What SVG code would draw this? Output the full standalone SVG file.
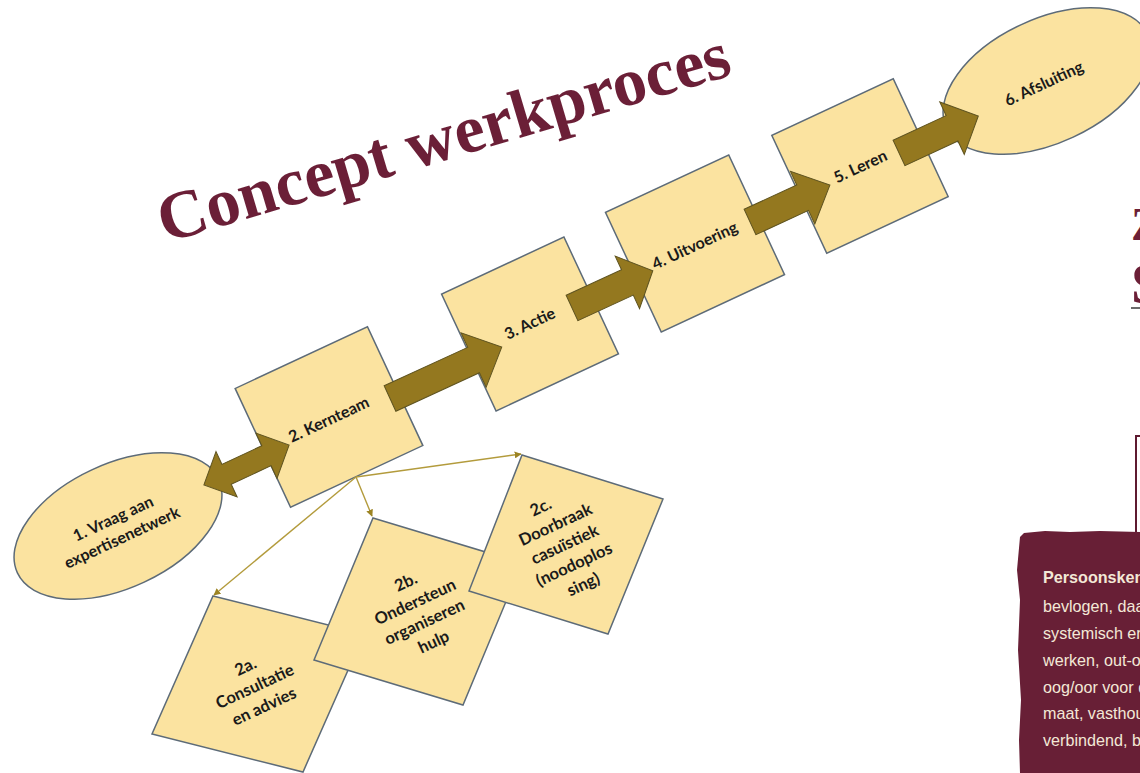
<svg xmlns="http://www.w3.org/2000/svg" width="1140" height="773" viewBox="0 0 1140 773">
<defs>
<style>
.box{fill:#fbe3a0;stroke:#5d6b78;stroke-width:1.5}
.lbl{font-family:Lato,"Open Sans","Liberation Sans",sans-serif;font-weight:bold;font-size:16px;fill:#1a1a1a;text-anchor:middle}
.sub{font-family:Lato,"Open Sans","Liberation Sans",sans-serif;font-weight:bold;font-size:16.5px;fill:#1a1a1a;text-anchor:middle}
.blk{fill:#94781f;stroke:#5e5320;stroke-width:1}
.conn{fill:none;stroke:#b39b3c;stroke-width:1.4}
.side{font-family:"Liberation Sans",sans-serif;font-size:17px;fill:#f3e8d6}
</style>
<marker id="ah" viewBox="0 0 10 10" refX="9" refY="5" markerWidth="7" markerHeight="7" orient="auto" markerUnits="userSpaceOnUse">
<path d="M0,0 L10,5 L0,10 z" fill="#9c8424"/>
</marker>
</defs>
<rect width="1140" height="773" fill="#ffffff"/>

<text x="0" y="0" transform="translate(165,243) rotate(-16.5)" font-family="'Liberation Serif',serif" font-weight="bold" font-size="68" fill="#6b1f37">Concept werkproces</text>

<g id="n1">
<ellipse cx="118" cy="526" rx="111" ry="62" transform="rotate(-25 118 526)" class="box"/>
<g transform="translate(118,529) rotate(-25)">
<text class="lbl" x="0" y="-6">1. Vraag aan</text>
<text class="lbl" x="0" y="15">expertisenetwerk</text>
</g>
</g>

<g id="n6">
<ellipse cx="1047" cy="81" rx="111" ry="62" transform="rotate(-25 1047 81)" class="box"/>
<text class="lbl" x="0" y="5" transform="translate(1044,84) rotate(-25)">6. Afsluiting</text>
</g>

<g id="n2">
<rect class="box" x="-73" y="-65.5" width="146" height="131" transform="translate(329,417) rotate(-25)"/>
<text class="lbl" x="0" y="5" transform="translate(329,420) rotate(-25)">2. Kernteam</text>
</g>
<g id="n3">
<rect class="box" x="-67.5" y="-64.5" width="135" height="129" transform="translate(530,324) rotate(-25)"/>
<text class="lbl" x="0" y="5" transform="translate(530,324) rotate(-25)">3. Actie</text>
</g>
<g id="n4">
<rect class="box" x="-68" y="-66" width="136" height="132" transform="translate(695,243.5) rotate(-25)"/>
<text class="lbl" x="0" y="5" transform="translate(695,246) rotate(-25)">4. Uitvoering</text>
</g>
<g id="n5">
<rect class="box" x="-67" y="-65" width="134" height="130" transform="translate(860,166) rotate(-25)"/>
<text class="lbl" x="0" y="5" transform="translate(860.5,167) rotate(-25)">5. Leren</text>
</g>

<g id="n2a">
<polygon class="box" points="213,596 364,634 303,772 152,734"/>
<g transform="translate(255,687) rotate(-25)">
<text class="sub" x="0" y="-17">2a.</text>
<text class="sub" x="0" y="5">Consultatie</text>
<text class="sub" x="0" y="27">en advies</text>
</g>
</g>
<g id="n2b">
<polygon class="box" points="373,518 522,563 463,705 314,660"/>
<g transform="translate(420,612.5) rotate(-25)">
<text class="sub" x="0" y="-28">2b.</text>
<text class="sub" x="0" y="-6">Ondersteun</text>
<text class="sub" x="0" y="16">organiseren</text>
<text class="sub" x="0" y="38">hulp</text>
</g>
</g>
<g id="n2c">
<polygon class="box" points="522,455 663,499 608,634 469,591"/>
<g transform="translate(565,545) rotate(-25)">
<text class="sub" x="-6" y="-39">2c.</text>
<text class="sub" x="0" y="-17">Doorbraak</text>
<text class="sub" x="0" y="5">casuïstiek</text>
<text class="sub" x="0" y="27">(noodoplos</text>
<text class="sub" x="0" y="49">sing)</text>
</g>
</g>

<g id="connectors">
<polygon class="blk" transform="translate(246.5,465) rotate(-25)" points="-47,0 -22,-25 -22,-11 22,-11 22,-25 47,0 22,25 22,11 -22,11 -22,25"/>
<polygon class="blk" transform="translate(390,398.5) rotate(-24.7)" points="0,-14 92,-14 92,-30 123,0 92,30 92,14 0,14"/>
<polygon class="blk" transform="translate(572,308) rotate(-24.8)" points="0,-14 61,-14 61,-29 89,0 61,29 61,14 0,14"/>
<polygon class="blk" transform="translate(750,222) rotate(-24.8)" points="0,-14 58,-14 58,-29 88,0 58,29 58,14 0,14"/>
<polygon class="blk" transform="translate(899,153) rotate(-25)" points="0,-14 58.5,-14 58.5,-29 87.5,0 58.5,29 58.5,14 0,14"/>
<line class="conn" x1="356" y1="477" x2="214" y2="595" marker-end="url(#ah)"/>
<line class="conn" x1="356" y1="477" x2="372" y2="516" marker-end="url(#ah)"/>
<line class="conn" x1="356" y1="477" x2="521" y2="454" marker-end="url(#ah)"/>
</g>

<g id="side">
<text x="1131" y="240" font-family="'Liberation Serif',serif" font-weight="bold" font-size="46" fill="#6b1f37">Z</text>
<text x="1131" y="303" font-family="'Liberation Serif',serif" font-weight="bold" font-size="58" fill="#6b1f37">S</text>
<line x1="1131" y1="308" x2="1140" y2="308" stroke="#3a3a3a" stroke-width="1.5"/>
<path d="M1136,533 L1136,436 L1140,436" fill="none" stroke="#5e1a30" stroke-width="2"/>
<path d="M1020,537 L1024,533 L1045,531 L1070,532 L1100,531 L1140,532 L1140,773 L1020,773 L1019,740 L1021,700 L1018,650 L1020,600 L1017,570 z" fill="#681f36"/>
<g transform="translate(1043,0) scale(0.95,1)">
<text class="side" x="0" y="583" font-weight="bold" font-size="19" fill="#faf3e8">Persoonskenmerken</text>
<text class="side" x="0" y="612">bevlogen, daadkrachtig</text>
<text class="side" x="0" y="639">systemisch en</text>
<text class="side" x="0" y="666">werken, out-of</text>
<text class="side" x="0" y="693">oog/oor voor de</text>
<text class="side" x="0" y="719">maat, vasthoudend</text>
<text class="side" x="0" y="746">verbindend, betrokken</text>
</g>
</g>
</svg>
